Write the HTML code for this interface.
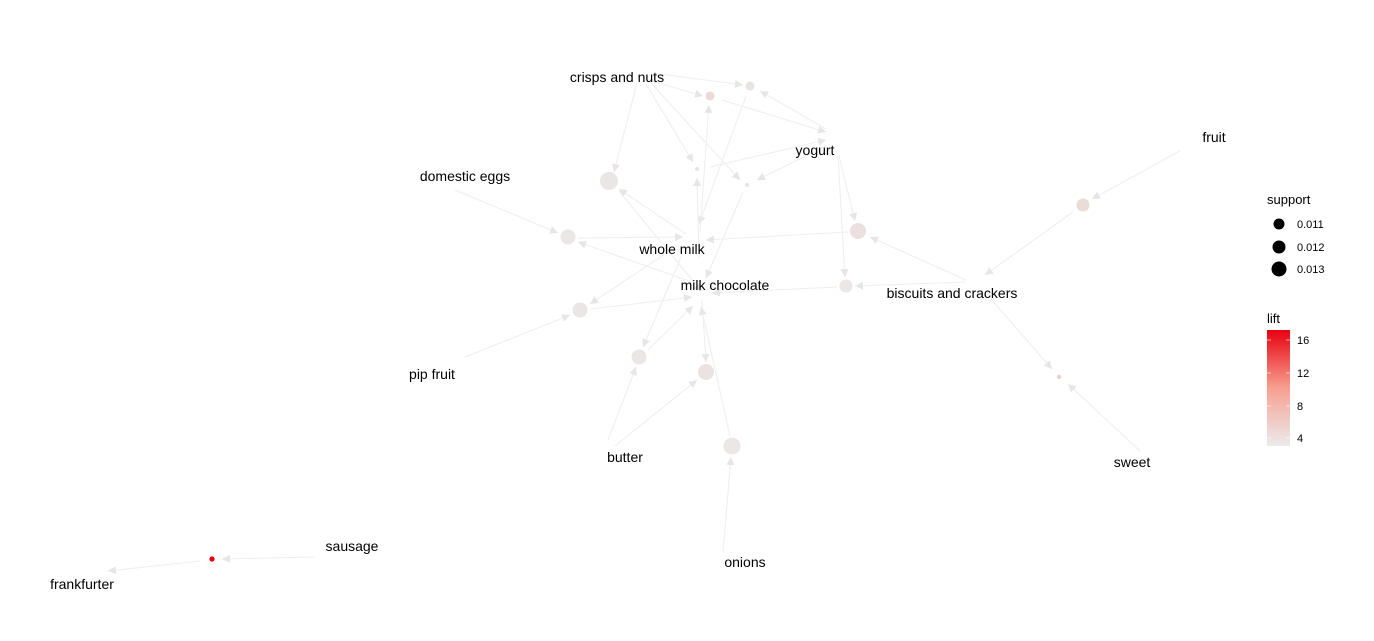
<!DOCTYPE html>
<html><head><meta charset="utf-8"><style>
html,body{margin:0;padding:0;background:#fff;}
svg{display:block;}
text{font-family:"Liberation Sans",Arial,sans-serif;fill:#000;}
</style></head><body>
<svg width="1374" height="641" viewBox="0 0 1374 641" xmlns="http://www.w3.org/2000/svg">
<defs>
<marker id="a" viewBox="0 0 10 10" refX="10" refY="5" markerWidth="8" markerHeight="8" markerUnits="userSpaceOnUse" orient="auto">
<path d="M0,0 L10,5 L0,10 z" fill="#e6e6e6"/></marker>
<linearGradient id="g" x1="0" y1="1" x2="0" y2="0">
<stop offset="0" stop-color="#ebebeb"/><stop offset="0.5" stop-color="#f7a090"/><stop offset="1" stop-color="#e8000f"/></linearGradient>
</defs>
<g stroke="#efefef" stroke-width="1.1" fill="none" marker-end="url(#a)">
<line x1="648" y1="80" x2="703" y2="96"/>
<line x1="652" y1="73" x2="743" y2="85"/>
<line x1="637" y1="83" x2="614" y2="172"/>
<line x1="646" y1="84" x2="693" y2="162"/>
<line x1="650" y1="82" x2="740" y2="180"/>
<line x1="722" y1="100" x2="826" y2="132"/>
<line x1="826" y1="129" x2="760" y2="91"/>
<line x1="710" y1="167" x2="826" y2="140"/>
<line x1="826" y1="146" x2="757" y2="180"/>
<line x1="839" y1="156" x2="855" y2="221"/>
<line x1="838" y1="156" x2="845" y2="277"/>
<line x1="746" y1="96" x2="699" y2="224"/>
<line x1="700" y1="232" x2="709" y2="105"/>
<line x1="699" y1="258" x2="697" y2="178"/>
<line x1="686" y1="234" x2="619" y2="189"/>
<line x1="619" y1="191" x2="702" y2="292"/>
<line x1="743" y1="192" x2="706" y2="278"/>
<line x1="455" y1="190" x2="558" y2="233"/>
<line x1="578" y1="238" x2="683" y2="237"/>
<line x1="692" y1="282" x2="578" y2="242"/>
<line x1="848" y1="232" x2="706" y2="240"/>
<line x1="966" y1="280" x2="870" y2="237"/>
<line x1="837" y1="287" x2="712" y2="293"/>
<line x1="965" y1="282" x2="855" y2="286"/>
<line x1="465" y1="357" x2="570" y2="315"/>
<line x1="591" y1="309" x2="692" y2="297"/>
<line x1="665" y1="254" x2="590" y2="304"/>
<line x1="682" y1="255" x2="643" y2="347"/>
<line x1="648" y1="350" x2="693" y2="306"/>
<line x1="608" y1="440" x2="636" y2="367"/>
<line x1="615" y1="446" x2="697" y2="380"/>
<line x1="702" y1="300" x2="706" y2="362"/>
<line x1="730" y1="436" x2="701" y2="307"/>
<line x1="723" y1="552" x2="731" y2="457"/>
<line x1="1180" y1="151" x2="1092" y2="199"/>
<line x1="1073" y1="212" x2="985" y2="275"/>
<line x1="1140" y1="451" x2="1068" y2="384"/>
<line x1="990" y1="298" x2="1052" y2="369"/>
<line x1="315" y1="557" x2="222" y2="559"/>
<line x1="200" y1="561" x2="108" y2="571"/>
</g>
<g>
<circle cx="710" cy="96" r="4.5" fill="#eadad8"/>
<circle cx="750" cy="86" r="4.5" fill="#ebe3e3"/>
<circle cx="609" cy="181" r="9" fill="#ebe6e6"/>
<circle cx="697" cy="169" r="2" fill="#ebe3e3"/>
<circle cx="747" cy="185" r="2" fill="#ebe3e3"/>
<circle cx="568" cy="237" r="7.5" fill="#ebe7e7"/>
<circle cx="858" cy="231" r="8" fill="#ebe0df"/>
<circle cx="846" cy="286" r="6.5" fill="#ebe7e7"/>
<circle cx="580" cy="310" r="7.5" fill="#ebe6e6"/>
<circle cx="639" cy="357" r="7.5" fill="#ebe6e6"/>
<circle cx="706" cy="372" r="8" fill="#ebe2e2"/>
<circle cx="732" cy="446" r="8.5" fill="#ebe7e7"/>
<circle cx="1083" cy="205" r="6.5" fill="#ecdcd8"/>
<circle cx="1059" cy="377" r="2.2" fill="#efcfcf"/>
<circle cx="212" cy="559" r="2.6" fill="#e8000f"/>
</g>
<g font-size="14">
<text x="617" y="82" text-anchor="middle">crisps and nuts</text>
<text x="815" y="155" text-anchor="middle">yogurt</text>
<text x="465" y="181" text-anchor="middle">domestic eggs</text>
<text x="672" y="254" text-anchor="middle">whole milk</text>
<text x="725" y="290" text-anchor="middle">milk chocolate</text>
<text x="952" y="298" text-anchor="middle">biscuits and crackers</text>
<text x="1214" y="142" text-anchor="middle">fruit</text>
<text x="432" y="379" text-anchor="middle">pip fruit</text>
<text x="625" y="462" text-anchor="middle">butter</text>
<text x="1132" y="467" text-anchor="middle">sweet</text>
<text x="745" y="567" text-anchor="middle">onions</text>
<text x="352" y="551" text-anchor="middle">sausage</text>
<text x="82" y="589" text-anchor="middle">frankfurter</text>
</g>
<g>
<text x="1267" y="204" font-size="13">support</text>
<circle cx="1279" cy="224" r="5.5" fill="#000"/>
<circle cx="1279" cy="247" r="6.5" fill="#000"/>
<circle cx="1279" cy="269" r="7.5" fill="#000"/>
<text x="1297" y="228" font-size="11">0.011</text>
<text x="1297" y="251" font-size="11">0.012</text>
<text x="1297" y="273" font-size="11">0.013</text>
<text x="1267" y="323" font-size="13">lift</text>
<rect x="1267" y="330" width="23" height="116" fill="url(#g)"/>
<g stroke="#fff" stroke-opacity="0.6" stroke-width="1">
<line x1="1267" y1="340" x2="1271" y2="340"/><line x1="1286" y1="340" x2="1290" y2="340"/>
<line x1="1267" y1="373" x2="1271" y2="373"/><line x1="1286" y1="373" x2="1290" y2="373"/>
<line x1="1267" y1="406" x2="1271" y2="406"/><line x1="1286" y1="406" x2="1290" y2="406"/>
<line x1="1267" y1="438" x2="1271" y2="438"/><line x1="1286" y1="438" x2="1290" y2="438"/>
</g>
<text x="1297" y="344" font-size="11">16</text>
<text x="1297" y="377" font-size="11">12</text>
<text x="1297" y="410" font-size="11">8</text>
<text x="1297" y="442" font-size="11">4</text>
</g>
</svg>
</body></html>
